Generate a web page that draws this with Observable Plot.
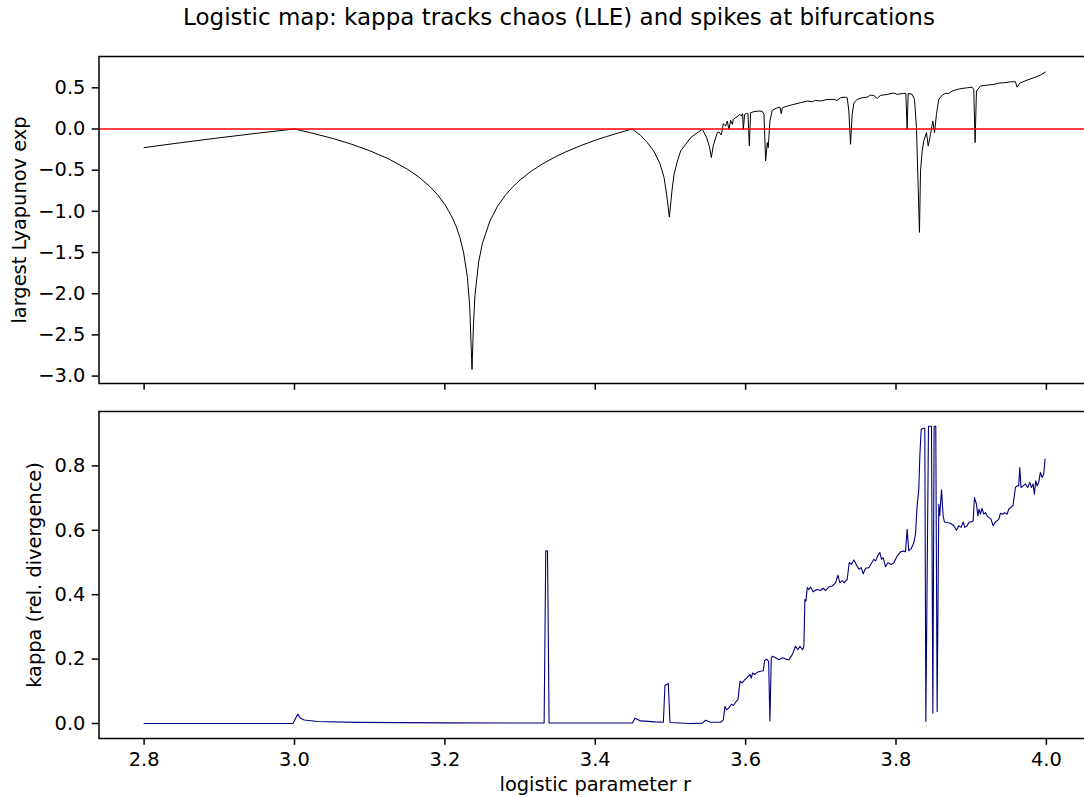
<!DOCTYPE html>
<html><head><meta charset="utf-8">
<script src="https://cdn.jsdelivr.net/npm/d3@7"></script>
<script src="https://cdn.jsdelivr.net/npm/@observablehq/plot@0.6"></script>
<style>
body{margin:0;background:#fff;}
#chart{position:relative;width:1084px;height:797px;overflow:hidden;background:#fff;font-family:"DejaVu Sans",sans-serif;}
#title{position:absolute;left:0;top:2px;width:1118px;text-align:center;font-size:23px;line-height:30px;color:#000;white-space:nowrap;}
#chart svg{position:absolute;left:0;max-width:none;}
</style></head><body>
<div id="chart"><div id="title">Logistic map: kappa tracks chaos (LLE) and spikes at bifurcations</div></div>
<script>
// Largest Lyapunov exponent vs r
const lleR = [2.8,2.85,2.9,2.95,3.0,3.02,3.05,3.075,3.1,3.125,3.15,3.165,3.18,3.19,3.2,3.21,3.215,3.22,3.225,3.23,3.233,3.2361,3.238,3.24,3.245,3.25,3.26,3.27,3.28,3.29,3.3,3.315,3.33,3.345,3.36,3.38,3.4,3.415,3.43,3.44,3.449,
3.452,3.4605,3.468,3.478,3.486,3.4915,3.495,3.4986,3.502,3.5048,3.509,3.5136,3.52,3.527,3.535,3.5424,3.548,3.552,3.5544,3.557,3.5623,3.5646,3.5677,
3.5703,3.5734,3.5756,3.5778,3.5801,3.5823,3.5836,3.5867,3.5898,3.5925,3.5942,3.596,3.5969,3.5987,3.6013,3.6031,3.6049,3.6066,3.6111,3.6177,3.6221,3.6244,
3.6266,3.6288,3.6301,3.6323,3.6354,3.6421,3.6456,3.6474,3.6487,3.6554,3.6642,3.6731,3.6819,3.6886,3.693,3.6997,3.7085,3.7174,3.7218,3.7262,3.7329,3.7351,
3.7373,3.7395,3.7417,3.744,3.7484,3.755,3.7617,3.7661,3.7706,3.775,3.7794,3.7883,3.7971,3.8016,3.8104,3.8131,3.8148,3.8162,3.8215,3.8246,3.8272,3.8295,
3.8312,3.8326,3.8348,3.837,3.8405,3.8428,3.8459,3.849,3.8512,3.8538,3.8569,3.8614,3.8658,3.8702,3.8746,3.8813,3.8879,3.8946,3.9012,3.9034,3.9052,3.907,
3.9123,3.9212,3.93,3.9367,3.9433,3.9522,3.9588,3.961,3.9646,3.9743,3.9832,3.992,3.9987];
const lleV = [-0.226,-0.165,-0.107,-0.052,0.0,-0.042,-0.113,-0.182,-0.264,-0.362,-0.487,-0.581,-0.698,-0.795,-0.916,-1.078,-1.183,-1.318,-1.504,-1.804,-2.145,-2.92,-2.378,-2.02,-1.61,-1.386,-1.115,-0.939,-0.809,-0.705,-0.619,-0.512,-0.423,-0.348,-0.281,-0.204,-0.137,-0.092,-0.05,-0.024,0.0,
-0.02,-0.08,-0.15,-0.27,-0.42,-0.59,-0.8,-1.07,-0.75,-0.55,-0.4,-0.266,-0.19,-0.105,-0.05,-0.004,-0.1,-0.22,-0.347,-0.2,-0.044,-0.036,-0.073,
0.064,0.036,0.097,-0.004,0.105,0.057,0.117,0.137,0.157,0.178,0.157,0.186,-0.004,0.178,0.19,0.186,-0.206,0.198,0.21,0.218,0.214,0.178,
-0.387,-0.165,-0.226,0.097,0.226,0.258,0.266,0.186,0.258,0.278,0.299,0.319,0.339,0.331,0.347,0.339,0.359,0.359,0.347,0.379,0.387,0.379,
0.218,-0.186,0.178,0.319,0.359,0.379,0.387,0.412,0.405,0.371,0.408,0.42,0.436,0.42,0.432,0.432,-0.004,0.432,0.42,0.359,0.016,-0.71,
-1.255,-0.508,-0.266,-0.145,-0.044,-0.206,-0.065,0.097,-0.044,0.178,0.359,0.412,0.432,0.432,0.46,0.48,0.492,0.5,0.508,0.48,-0.165,0.46,
0.521,0.533,0.541,0.557,0.561,0.573,0.573,0.508,0.557,0.593,0.622,0.654,0.69];

// kappa (relative divergence) vs r
const kapR = [2.8,2.998,3.0043,3.0077,3.013,3.0308,3.084,3.2,3.332,3.3342,3.3365,3.3386,3.4494,3.4529,3.4605,3.48,3.4906,3.4927,3.4972,3.4994,
3.5269,3.5424,3.5468,3.5535,3.5668,3.5703,3.5725,3.5747,3.5778,3.5809,3.5836,3.5867,3.5898,3.5925,3.5956,3.5987,3.6013,3.6031,3.6058,3.6075,3.6093,3.612,
3.6155,3.6199,3.6235,3.6252,3.6279,3.6306,3.6323,3.6341,3.6359,3.6399,3.6443,3.6488,3.6532,3.6576,3.662,3.6664,3.6695,3.6722,3.6757,3.6775,3.6788,3.6802,
3.682,3.6842,3.6864,3.6899,3.6944,3.6997,3.7032,3.7063,3.7107,3.7152,3.7196,3.7227,3.7254,3.7285,3.7307,3.7351,3.7378,3.7405,3.744,3.7471,3.7506,3.7537,
3.7564,3.7595,3.7639,3.7705,3.7728,3.7759,3.7785,3.7807,3.7829,3.786,3.7892,3.7936,3.7971,3.8016,3.806,3.8104,3.8126,3.8148,3.817,3.8202,3.8237,3.8259,
3.8281,3.8303,3.8317,3.8335,3.8361,3.8383,3.8397,3.8432,3.8472,3.849,3.8507,3.8529,3.8547,3.8569,3.8582,3.8605,3.8627,3.8644,3.868,3.8724,3.8769,3.8804,
3.8835,3.8866,3.8893,3.8915,3.8946,3.8972,3.8999,3.9026,3.9043,3.907,3.9088,3.9105,3.9123,3.9145,3.9167,3.9189,3.9212,3.9234,3.9265,3.9291,3.9322,3.9367,
3.9389,3.942,3.9446,3.9477,3.9499,3.953,3.9557,3.9588,3.961,3.9632,3.9646,3.9663,3.969,3.9721,3.9752,3.9779,3.9801,3.9823,3.9841,3.9858,3.9876,3.9898,
3.992,3.9943,3.9965,3.9982];
const kapV = [0,0,0.029,0.017,0.011,0.006,0.0035,0.002,0.0015,0.536,0.536,0.0015,0.0015,0.0166,0.008,0.005,0.004,0.118,0.124,0.003,
0.0,0.001,0.01,0.004,0.004,0.011,0.053,0.043,0.048,0.06,0.056,0.066,0.074,0.131,0.126,0.136,0.141,0.146,0.152,0.141,0.157,0.152,
0.159,0.162,0.164,0.195,0.2,0.193,0.008,0.204,0.209,0.204,0.198,0.204,0.2,0.198,0.214,0.24,0.229,0.24,0.229,0.24,0.385,0.38,
0.422,0.416,0.424,0.409,0.416,0.413,0.42,0.413,0.424,0.427,0.437,0.461,0.437,0.444,0.437,0.448,0.5,0.494,0.508,0.494,0.479,0.484,
0.465,0.482,0.484,0.51,0.505,0.522,0.531,0.51,0.515,0.487,0.499,0.494,0.499,0.52,0.533,0.536,0.533,0.603,0.536,0.543,0.562,0.588,
0.676,0.728,0.832,0.913,0.917,0.917,0.006,0.923,0.923,0.032,0.923,0.923,0.037,0.681,0.645,0.726,0.645,0.626,0.624,0.622,0.614,0.6,
0.614,0.609,0.626,0.609,0.614,0.626,0.626,0.629,0.702,0.681,0.645,0.666,0.65,0.668,0.65,0.655,0.645,0.64,0.634,0.614,0.626,0.634,
0.653,0.65,0.655,0.65,0.666,0.671,0.678,0.733,0.738,0.738,0.795,0.733,0.738,0.744,0.733,0.749,0.733,0.744,0.712,0.754,0.738,0.749,
0.78,0.764,0.775,0.821];

const xTicks = [2.8, 3.0, 3.2, 3.4, 3.6, 3.8, 4.0];
const yTicksTop = [-3.0, -2.5, -2.0, -1.5, -1.0, -0.5, 0.0, 0.5];
const yTicksBottom = [0.0, 0.2, 0.4, 0.6, 0.8];

const lle = lleR.map((r, i) => ({r, v: lleV[i]}));
const kap = kapR.map((r, i) => ({r, v: kapV[i]}));

const FS = 19.4;
const fmt = d => (d < 0 ? "\u2212" : "") + Math.abs(d).toFixed(1);
const common = {
  width: 1092, marginLeft: 98.5, marginRight: 1,
  style: {fontSize: FS + "px", fontFamily: "DejaVu Sans, sans-serif", color: "black", background: "transparent", overflow: "visible", maxWidth: "none"}
};

const topPlot = Plot.plot({
  ...common, height: 361, marginTop: 16, marginBottom: 18,
  x: {domain: [2.74, 4.06]},
  y: {domain: [-3.09, 0.88]},
  marks: [
    Plot.line(lle, {x: "r", y: "v", stroke: "black", strokeWidth: 1.0}),
    Plot.ruleY([0], {stroke: "red", strokeWidth: 1.4}),
    Plot.frame({stroke: "black", strokeWidth: 1.5}),
    Plot.axisY(yTicksTop, {tickSize: 6.8, tickPadding: 6.8, strokeWidth: 1.5, tickFormat: fmt, label: null}),
    Plot.axisX(xTicks, {tickSize: 6.8, strokeWidth: 1.5, tickFormat: () => "", label: null}),
    Plot.text(["largest Lyapunov exp"], {frameAnchor: "left", textAnchor: "middle", lineAnchor: "middle", rotate: -90, dx: -79, fontSize: FS})
  ]
});
topPlot.style.top = "40px";

const bottomPlot = Plot.plot({
  ...common, height: 397, marginTop: 10, marginBottom: 60,
  x: {domain: [2.74, 4.06]},
  y: {domain: [-0.0466, 0.969]},
  marks: [
    Plot.line(kap, {x: "r", y: "v", stroke: "navy", strokeWidth: 1.1}),
    Plot.frame({stroke: "black", strokeWidth: 1.5}),
    Plot.axisY(yTicksBottom, {tickSize: 6.8, tickPadding: 6.8, strokeWidth: 1.5, tickFormat: fmt, label: null}),
    Plot.axisX(xTicks, {tickSize: 6.8, tickPadding: 6.8, strokeWidth: 1.5, tickFormat: fmt, label: null}),
    Plot.text(["kappa (rel. divergence)"], {frameAnchor: "left", textAnchor: "middle", lineAnchor: "middle", rotate: -90, dx: -64, fontSize: FS}),
    Plot.text(["logistic parameter r"], {frameAnchor: "bottom", textAnchor: "middle", lineAnchor: "middle", dy: 46, fontSize: FS})
  ]
});
bottomPlot.style.top = "401px";

const chart = document.getElementById("chart");
chart.appendChild(topPlot);
chart.appendChild(bottomPlot);
</script>
</body></html>
